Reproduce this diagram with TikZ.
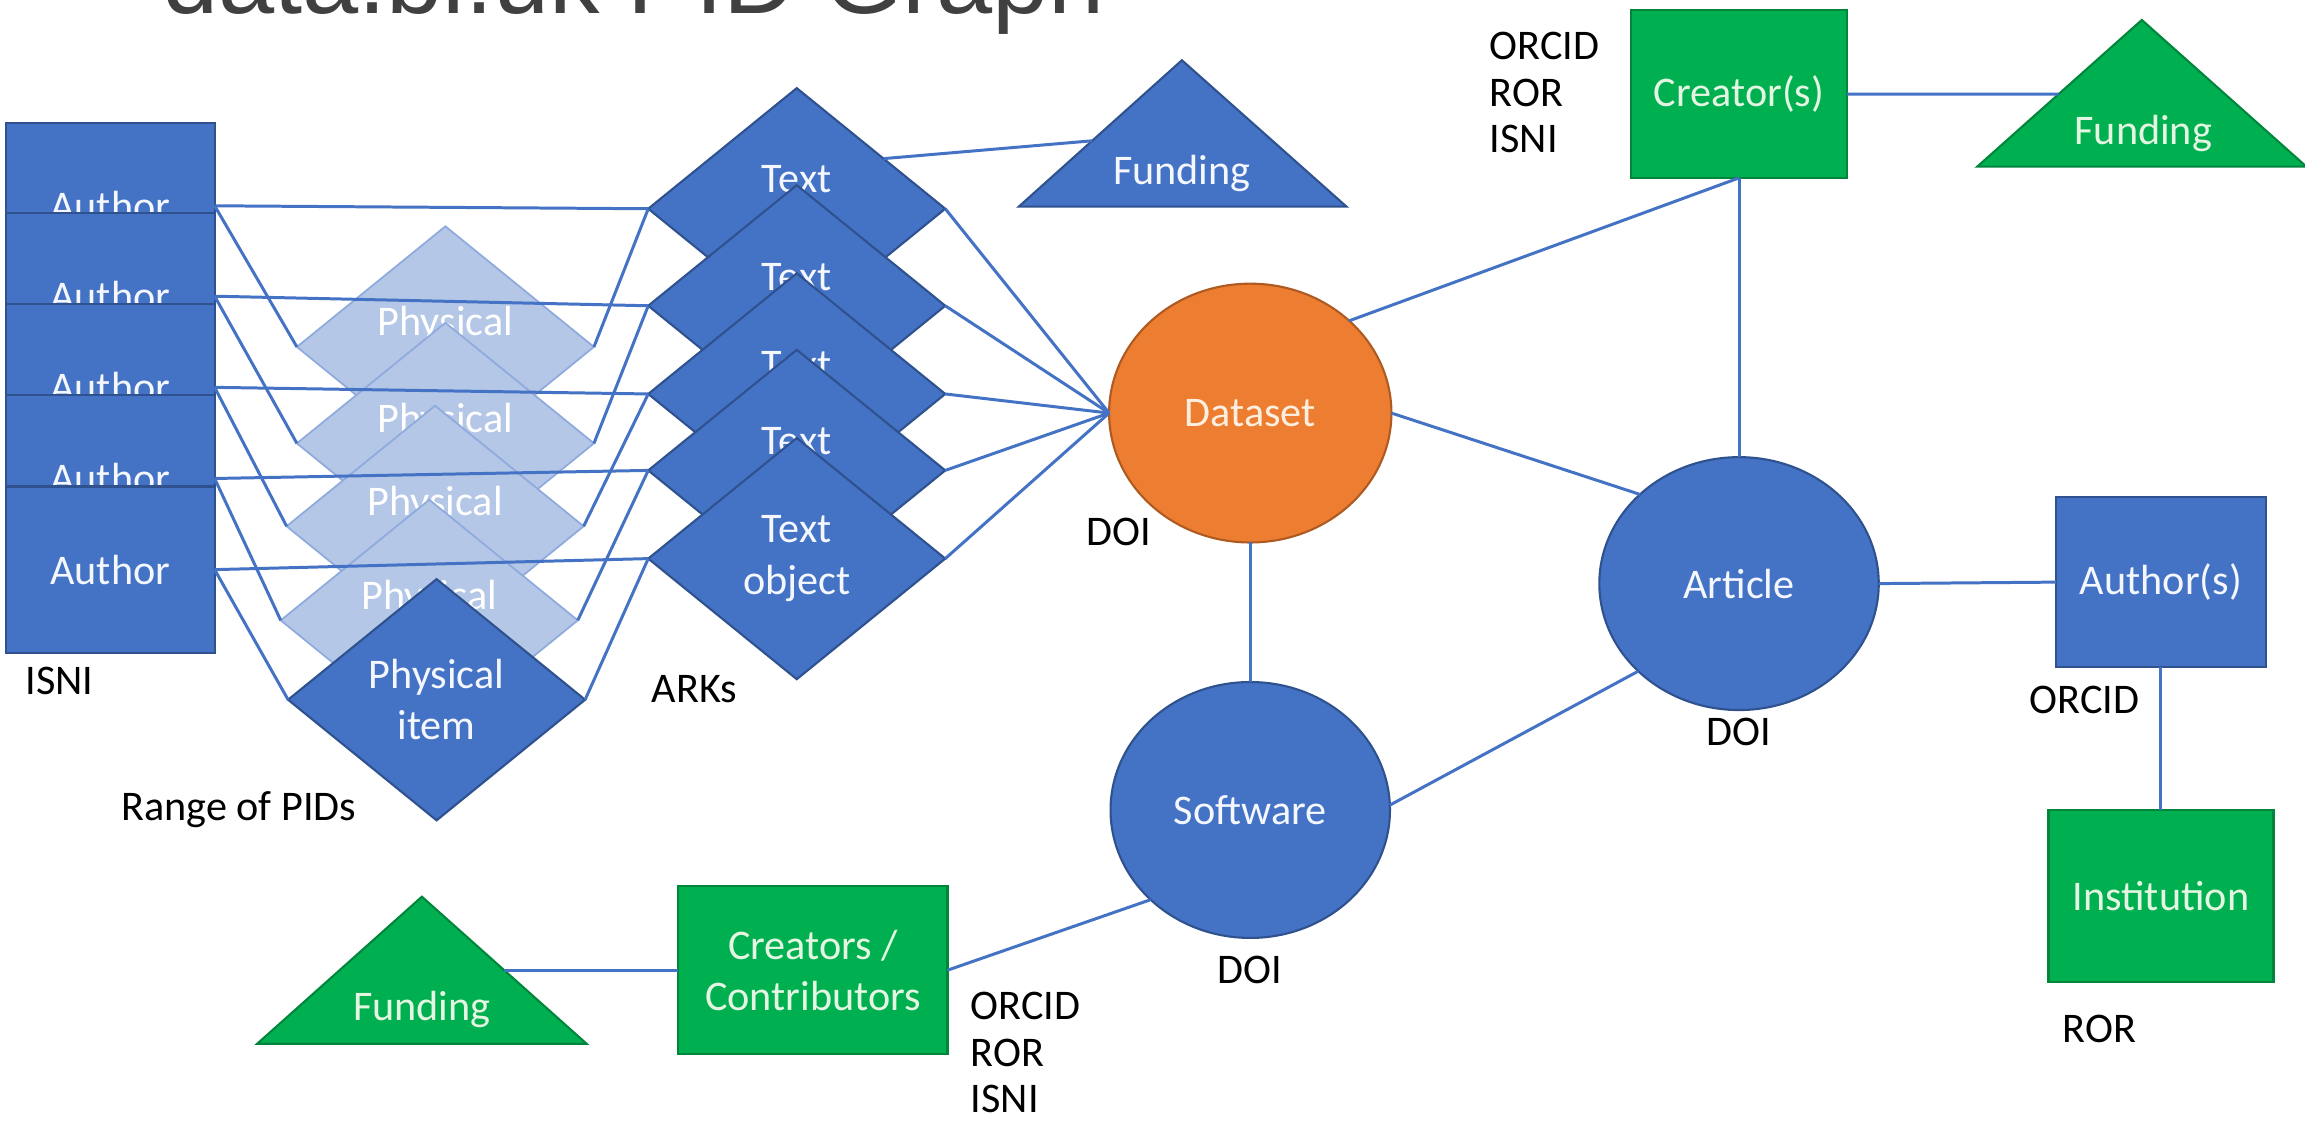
\documentclass[tikz,border=0pt]{standalone}
\usepackage{fontspec}
\setmainfont{Carlito}
\newfontfamily\titlefamily{Liberation Sans}
\usetikzlibrary{shapes.geometric,calc}
\definecolor{cblue}{HTML}{4472C4}
\definecolor{cdark}{HTML}{2F528F}
\definecolor{corange}{HTML}{ED7D31}
\definecolor{corangedark}{HTML}{AE5A21}
\definecolor{cgreen}{HTML}{00B050}
\definecolor{cgreendark}{HTML}{00863C}
\definecolor{clight}{HTML}{B4C7E7}
\definecolor{clightdark}{HTML}{8FAADC}
\definecolor{cgray}{HTML}{404040}
\definecolor{tgreen}{HTML}{E4F6E2}
\definecolor{torange}{HTML}{FDEFE0}
\definecolor{tblue}{HTML}{F4F7FD}
\newcommand\lblfont{\fontsize{12}{14.6}\selectfont}
\newcommand\idfont{\fontsize{12}{13.2}\selectfont}
\begin{document}
\begin{tikzpicture}[x=0.0147cm, y=-0.0147cm,
  conn/.style={draw=cblue, line width=0.85pt},
  shapebase/.style={inner sep=0pt, outer sep=0pt, align=center, font=\lblfont, text=tblue},
  authorbox/.style={shapebase, rectangle, fill=cblue, draw=cdark, line width=0.6pt, minimum width=2.087cm, minimum height=1.661cm},
  dia/.style={shapebase, diamond, aspect=1.23, minimum width=2.969cm, minimum height=2.411cm},
  darkdia/.style={dia, fill=cblue, draw=cdark, line width=0.6pt},
  lightdia/.style={dia, fill=clight, draw=clightdark, line width=0.5pt, text=white},
  orb/.style={shapebase, ellipse, line width=0.6pt},
  greenbox/.style={shapebase, rectangle, fill=cgreen, draw=cgreendark, line width=0.6pt, text=tgreen},
  bluetri/.style={fill=cblue, draw=cdark, line width=0.6pt},
  greentri/.style={fill=cgreen, draw=cgreendark, line width=0.6pt},
  trilabel/.style={inner sep=0pt, font=\lblfont, text=tblue},
  idlabel/.style={inner sep=0pt, font=\lblfont, text=black},
]
\useasboundingbox (0,0) rectangle (1568,763);
\fill[white] (0,0) rectangle (1568,763);

% title (cut at the top edge)
\node[anchor=base west, inner sep=0pt, font=\titlefamily\fontsize{28.7}{34}\selectfont, text=cgray] (title) at (110,9.5) {data.bl.uk PID Graph};

% stacked authors
\node[authorbox] (au1) at (75,140) {Author};
\node[authorbox] (au2) at (75,201.5) {Author};
\node[authorbox] (au3) at (75,263.5) {Author};
\node[authorbox] (au4) at (75,325.5) {Author};
\node[authorbox] (au5) at (75,387.5) {Author};

% physical items
\node[lightdia] (ph1) at (303,236) {Physical\\\vphantom{item}};
\node[lightdia] (ph2) at (303,301.6) {Physical\\\vphantom{item}};
\node[lightdia] (ph3) at (296,358) {Physical\\\vphantom{item}};
\node[lightdia] (ph4) at (292,422) {Physical\\\vphantom{item}};
\node[darkdia] (ph5) at (297,476) {Physical\\item};

% text objects
\node[darkdia] (tx1) at (542,142) {Text\\\vphantom{object}};
\node[darkdia] (tx2) at (542,208) {Text\\\vphantom{object}};
\node[darkdia] (tx3) at (542,268) {Text\\\vphantom{object}};
\node[darkdia] (tx4) at (542,320) {Text\\\vphantom{object}};
\node[darkdia] (tx5) at (542,380) {Text\\object};

% outputs
\node[orb, fill=corange, draw=corangedark, text=torange, minimum width=2.822cm, minimum height=2.587cm] (dataset) at (850.5,281) {Dataset};
\node[orb, fill=cblue, draw=cdark, minimum width=2.793cm, minimum height=2.528cm] (article) at (1183,397) {Article};
\node[orb, fill=cblue, draw=cdark, minimum width=2.793cm, minimum height=2.558cm] (software) at (850.5,551) {Software};

\node[greenbox, minimum width=2.161cm, minimum height=1.676cm] (creator) at (1183,64) {Creator(s)};
\node[authorbox, minimum width=2.102cm, minimum height=1.698cm] (authors) at (1470,396) {Author(s)};
\node[greenbox, minimum width=2.249cm, minimum height=1.720cm] (inst) at (1470,609.5) {Institution};
\node[greenbox, minimum width=2.690cm, minimum height=1.676cm] (contrib) at (553,660) {Creators /\\Contributors};

% funding triangles
\coordinate (fm-a) at (804,41);
\coordinate (fm-l) at (693,140.6);
\coordinate (fm-r) at (916,140.6);
\draw[bluetri] (fm-a) -- (fm-l) -- (fm-r) -- cycle;
\node[trilabel] (fundmid) at (804,118) {Funding};
\coordinate (fm-in) at ($(fm-a)!0.55!(fm-l)$);

\coordinate (fr-a) at (1457,13.6);
\coordinate (fr-l) at (1345,113.4);
\coordinate (fr-r) at (1569,113.4);
\draw[greentri] (fr-a) -- (fr-l) -- (fr-r) -- cycle;
\node[trilabel, text=tgreen] (fundright) at (1458,91) {Funding};
\coordinate (fr-in) at ($(fr-a)!0.505!(fr-l)$);

\coordinate (fb-a) at (287,610);
\coordinate (fb-l) at (175,710);
\coordinate (fb-r) at (399,710);
\draw[greentri] (fb-a) -- (fb-l) -- (fb-r) -- cycle;
\node[trilabel, text=tgreen] (fundbottom) at (287,687) {Funding};
\coordinate (fb-in) at ($(fb-a)!0.5!(fb-r)$);

% connectors
\foreach \i in {1,...,5} {
  \draw[conn] (au\i.east) -- (tx\i.west);
  \draw[conn] (au\i.east) -- (ph\i.west);
  \draw[conn] (ph\i.east) -- (tx\i.west);
  \draw[conn] (tx\i.east) -- (dataset.west);
}
\draw[conn] (tx1.30) -- (fm-in);
\draw[conn] (dataset.43) -- (creator.south);
\draw[conn] (dataset.east) -- (article.138);
\draw[conn] (dataset.south) -- (software.north);
\draw[conn] (software.2) -- (article.221);
\draw[conn] (article.north) -- (creator.south);
\draw[conn] (article.east) -- (authors.west);
\draw[conn] (authors.south) -- (inst.north);
\draw[conn] (creator.east) -- (fr-in);
\draw[conn] (contrib.east) -- (software.222);
\draw[conn] (fb-in) -- (contrib.west);

% identifier labels
\node[idlabel, anchor=west] (isni) at (17,463) {ISNI};
\node[idlabel] (range) at (162.5,551) {Range of PIDs};
\node[idlabel, anchor=west] (arks) at (443,469) {ARKs};
\node[idlabel] (doi1) at (761,362) {DOI};
\node[idlabel] (doi2) at (1183,498) {DOI};
\node[idlabel] (doi3) at (850,660) {DOI};
\node[idlabel] (orcid1) at (1418,476) {ORCID};
\node[idlabel] (ror1) at (1428,700) {ROR};
\node[idlabel, anchor=west, align=left, font=\idfont] (ids1) at (1013,63) {ORCID\\ROR\\ISNI};
\node[idlabel, anchor=west, align=left, font=\idfont] (ids2) at (660,716) {ORCID\\ROR\\ISNI};
\end{tikzpicture}
\end{document}
